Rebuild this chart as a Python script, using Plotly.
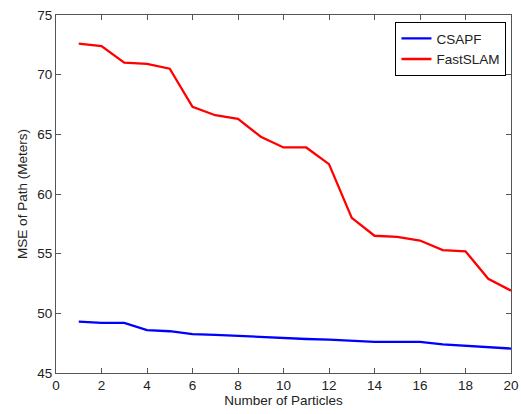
import plotly.graph_objects as go

particles = list(range(1, 21))
csapf = [49.3, 49.2, 49.2, 48.6, 48.5, 48.25, 48.2, 48.1, 48.05, 47.95,
         47.85, 47.8, 47.7, 47.6, 47.6, 47.6, 47.4, 47.3, 47.2, 47.05]
fastslam = [72.6, 72.4, 71.0, 70.9, 70.5, 67.3, 66.6, 66.3, 64.8, 63.9,
            63.9, 62.5, 58.0, 56.5, 56.4, 56.1, 55.3, 55.2, 52.9, 51.9]
x_ticks = list(range(0, 21, 2))
y_ticks = list(range(45, 76, 5))

fig = go.Figure()
fig.add_trace(go.Scatter(x=particles, y=csapf, mode="lines", name="CSAPF",
                         line=dict(color="#0000ff", width=2.3)))
fig.add_trace(go.Scatter(x=particles, y=fastslam, mode="lines", name="FastSLAM",
                         line=dict(color="#ff0000", width=2.3)))

axis_common = dict(showline=True, linecolor="#555555", linewidth=1, mirror="ticks",
                   ticks="inside", ticklen=5, tickcolor="#555555", showgrid=False,
                   zeroline=False, automargin=False,
                   tickfont=dict(size=13.5, color="#222222"))

fig.update_layout(
    width=521, height=414,
    margin=dict(l=56, r=10, t=15, b=41),
    paper_bgcolor="white", plot_bgcolor="white",
    font=dict(family="Liberation Sans, Arial, sans-serif", size=13.5, color="#222222"),
    xaxis=dict(range=[0, 20], tickvals=x_ticks,
               title=dict(text="Number of Particles", standoff=3, font=dict(size=13.5)),
               **axis_common),
    yaxis=dict(range=[45, 75], tickvals=y_ticks,
               title=dict(text="MSE of Path (Meters)", standoff=6, font=dict(size=13.5)),
               **axis_common),
    legend=dict(x=0.99, y=0.98, xanchor="right", yanchor="top",
                bordercolor="black", borderwidth=1, bgcolor="white",
                font=dict(size=13.5), tracegroupgap=0),
    showlegend=True,
)

fig.write_html("out.html")
